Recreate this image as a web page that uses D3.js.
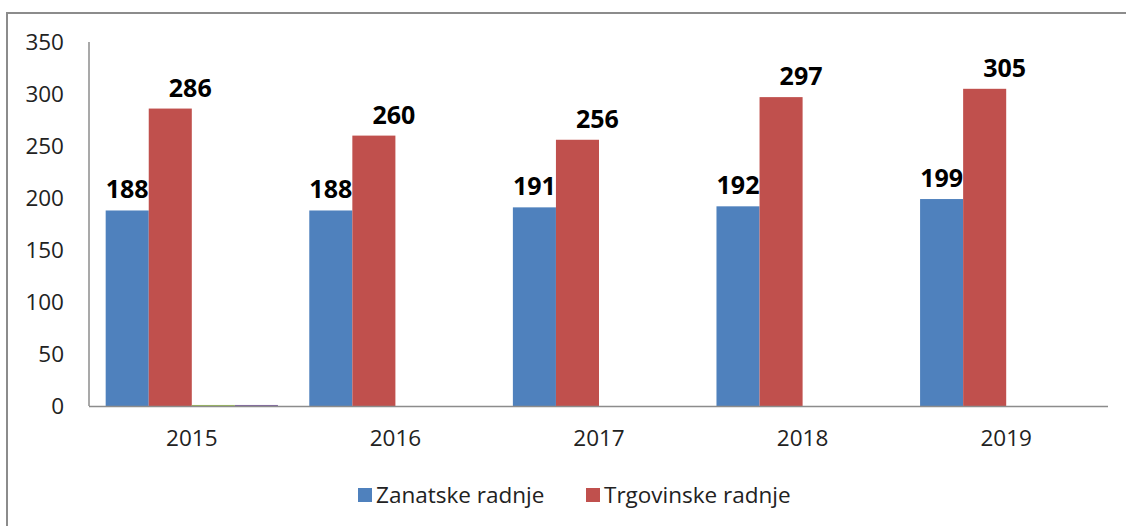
<!DOCTYPE html>
<html>
<head>
<meta charset="utf-8">
<script src="https://cdnjs.cloudflare.com/ajax/libs/d3/7.8.5/d3.min.js"></script>
<style>
  body { margin: 0; background: #fff; }
  svg { display: block; font-family: "Open Sans", "Noto Sans", sans-serif; }
</style>
</head>
<body>
<svg id="chart" width="1126" height="526"></svg>
<script>
// Podaci
const years = ['2015', '2016', '2017', '2018', '2019'];
const seriesNames = ['Zanatske radnje', 'Trgovinske radnje', 'S3', 'S4'];
const zanatske = [188, 188, 191, 192, 199];
const trgovinske = [286, 260, 256, 297, 305];
const series3 = [1, 0, 0, 0, 0];
const series4 = [1, 0, 0, 0, 0];
const yTicks = [0, 50, 100, 150, 200, 250, 300, 350];
const colors = ['#4f81bd', '#c0504d', '#9bbb59', '#8064a2'];
const legendNames = ['Zanatske radnje', 'Trgovinske radnje'];

const allSeries = [zanatske, trgovinske, series3, series4];

const svg = d3.select('#chart');
const plotLeft = 90, plotRight = 1108, plotTop = 42, plotBottom = 406;

// okvir grafikona
svg.append('rect')
  .attr('x', 7).attr('y', 13)
  .attr('width', 1130).attr('height', 530)
  .attr('fill', 'none')
  .attr('stroke', '#8c8c8c')
  .attr('stroke-width', 2);

const y = d3.scaleLinear().domain([0, 350]).range([plotBottom, plotTop]);
const x0 = d3.scaleBand().domain(years).range([plotLeft, plotRight]).padding(0);
const gap = x0.bandwidth() * 0.077;
const x1 = d3.scaleBand().domain(d3.range(4)).range([gap, x0.bandwidth() - gap]).padding(0);

// y labels
svg.append('g').selectAll('text')
  .data(yTicks)
  .enter().append('text')
  .attr('x', 64)
  .attr('y', d => y(d))
  .attr('dy', '0.36em')
  .attr('text-anchor', 'end')
  .attr('font-size', 22.5)
  .attr('fill', '#222')
  .text(d => d);

// bars
const groups = svg.append('g').selectAll('g')
  .data(years)
  .enter().append('g')
  .attr('transform', d => `translate(${x0(d)},0)`);

groups.selectAll('rect')
  .data((d, i) => allSeries.map((s, k) => ({ k, v: s[i] })))
  .enter().append('rect')
  .attr('x', d => x1(d.k))
  .attr('width', x1.bandwidth())
  .attr('y', d => y(d.v))
  .attr('height', d => plotBottom - y(d.v))
  .attr('fill', d => colors[d.k]);

// data labels (samo prve dvije serije)
const labelDx = [0, 20];
groups.selectAll('text.lbl')
  .data((d, i) => [0, 1].map(k => ({ k, v: allSeries[k][i] })))
  .enter().append('text')
  .attr('class', 'lbl')
  .attr('x', d => x1(d.k) + x1.bandwidth() / 2 + labelDx[d.k])
  .attr('y', d => y(d.v) - 12)
  .attr('text-anchor', 'middle')
  .attr('font-size', 25)
  .attr('font-weight', 'bold')
  .attr('fill', '#000')
  .text(d => d.v);

// axes lines
svg.append('line')
  .attr('x1', plotLeft - 1).attr('x2', plotLeft - 1)
  .attr('y1', plotTop).attr('y2', plotBottom)
  .attr('stroke', '#8c8c8c').attr('stroke-width', 1.5);
svg.append('line')
  .attr('x1', plotLeft - 1).attr('x2', plotRight)
  .attr('y1', plotBottom + 0.5).attr('y2', plotBottom + 0.5)
  .attr('stroke', '#8c8c8c').attr('stroke-width', 1.5);

// x labels
svg.append('g').selectAll('text')
  .data(years)
  .enter().append('text')
  .attr('x', d => x0(d) + x0.bandwidth() / 2)
  .attr('y', 438)
  .attr('dy', '0.36em')
  .attr('text-anchor', 'middle')
  .attr('font-size', 22.5)
  .attr('fill', '#222')
  .text(d => d);

// legenda
const legendX = [358, 586];
const legend = svg.append('g').selectAll('g')
  .data(legendNames)
  .enter().append('g')
  .attr('transform', (d, i) => `translate(${legendX[i]},488)`);
legend.append('rect')
  .attr('width', 14).attr('height', 14)
  .attr('fill', (d, i) => colors[i]);
legend.append('text')
  .attr('x', 18).attr('y', 7)
  .attr('dy', '0.36em')
  .attr('font-size', 22.5)
  .attr('fill', '#222')
  .text(d => d);
</script>
</body>
</html>
